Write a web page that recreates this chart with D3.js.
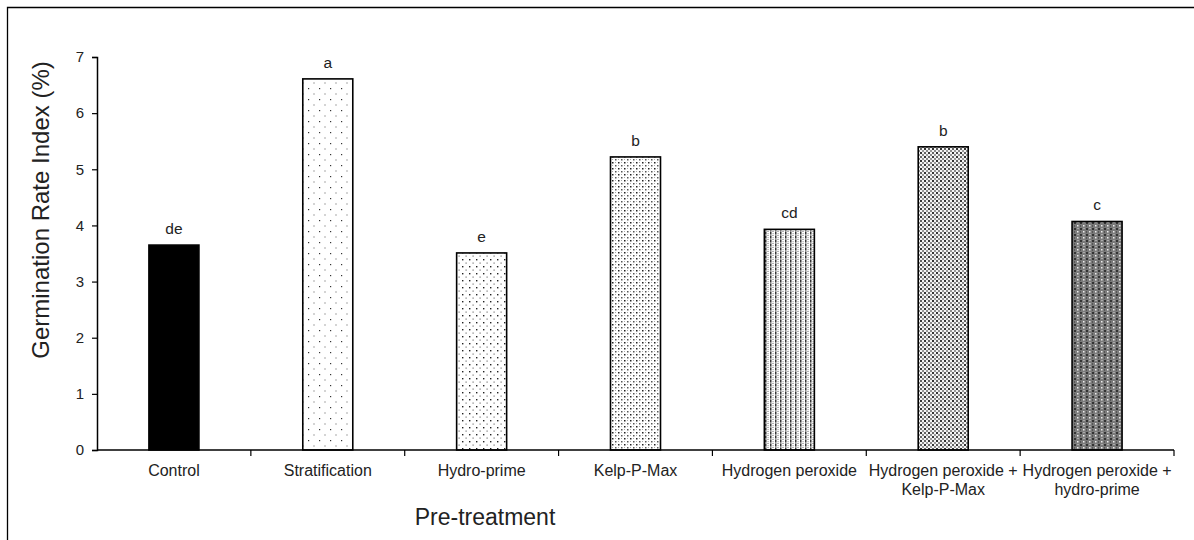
<!DOCTYPE html>
<html>
<head>
<meta charset="utf-8">
<script src="https://cdn.jsdelivr.net/npm/d3@7/dist/d3.min.js"></script>
<style>
  html, body { margin: 0; padding: 0; background: #fff; }
  svg { display: block; font-family: "Liberation Sans", Arial, sans-serif; }
</style>
</head>
<body>
<svg id="chart" width="1194" height="540"></svg>
<script>
// Pre-treatments and their germination rate index values
const categories = [
  ["Control"],
  ["Stratification"],
  ["Hydro-prime"],
  ["Kelp-P-Max"],
  ["Hydrogen peroxide"],
  ["Hydrogen peroxide +", "Kelp-P-Max"],
  ["Hydrogen peroxide +", "hydro-prime"]
];
const values = [3.65, 6.61, 3.51, 5.22, 3.93, 5.40, 4.07];
const letters = ["de", "a", "e", "b", "cd", "b", "c"];
const yTicks = [0, 1, 2, 3, 4, 5, 6, 7];
const fills = ["solid", "sparse", "dots", "fine", "stripes", "check", "dark"];

const svg = d3.select("#chart");
const defs = svg.append("defs");

// Fill patterns for the bars
function pattern(id, w, h, bg, dots) {
  const p = defs.append("pattern").attr("id", id)
    .attr("patternUnits", "userSpaceOnUse").attr("width", w).attr("height", h);
  p.append("rect").attr("width", w).attr("height", h).attr("fill", bg);
  dots.forEach(([x, y, dw, dh, c]) => p.append("rect")
    .attr("x", x).attr("y", y).attr("width", dw).attr("height", dh).attr("fill", c));
}
pattern("sparse", 11, 11, "#fff", [[0, 0, 1.2, 1.2, "#333"], [5.5, 5.5, 1, 1, "#555"]]);
pattern("dots", 7, 7, "#fff", [[0, 0, 1.4, 1.4, "#222"], [3.5, 3.5, 1.2, 1.2, "#777"]]);
pattern("fine", 6, 6, "#fff", [[0, 0, 1.5, 1.5, "#222"], [3, 3, 1.5, 1.5, "#555"], [3, 0, 1, 1, "#aaa"], [0, 3, 1, 1, "#aaa"]]);
pattern("stripes", 5, 4, "#fff", [[0, 0, 1.5, 2, "#333"], [0, 2, 1.5, 2, "#888"], [2.5, 1, 1.2, 1.2, "#aaa"], [2.5, 3, 1, 1, "#666"]]);
pattern("check", 8, 8, "#f4f4f4", [[0, 0, 2, 2, "#333"], [4, 4, 2, 2, "#333"], [2, 2, 2, 2, "#888"], [6, 6, 2, 2, "#888"], [6, 2, 2, 2, "#999"], [2, 6, 2, 2, "#999"], [0, 4, 2, 2, "#666"], [4, 0, 2, 2, "#666"]]);
pattern("dark", 6, 6, "#7a7a7a", [[0, 0, 2, 2, "#333"], [3, 3, 1.5, 1.5, "#eee"], [3, 0, 2, 1, "#aaa"], [0, 3, 1, 2, "#555"]]);

// Outer frame
svg.append("path").attr("d", "M7.5,540 V7.5 H1194")
  .attr("fill", "none").attr("stroke", "#000").attr("stroke-width", 1.3);

const margin = { left: 97, right: 1174, top: 57, bottom: 450 };
const x = d3.scaleBand().domain(d3.range(categories.length))
  .range([margin.left, margin.right]).paddingInner(0).paddingOuter(0);
const y = d3.scaleLinear().domain([0, 7]).range([margin.bottom, margin.top]);
const barW = 50;

// Bars
svg.append("g").selectAll("rect").data(values).join("rect")
  .attr("x", (d, i) => x(i) + x.bandwidth() / 2 - barW / 2)
  .attr("y", d => y(d))
  .attr("width", barW)
  .attr("height", d => y(0) - y(d))
  .attr("fill", (d, i) => fills[i] === "solid" ? "#000" : `url(#${fills[i]})`)
  .attr("stroke", "#000").attr("stroke-width", 1.6);

// Significance letters
svg.append("g").selectAll("text").data(values).join("text")
  .attr("x", (d, i) => x(i) + x.bandwidth() / 2)
  .attr("y", d => y(d) - 11)
  .attr("text-anchor", "middle")
  .attr("font-size", 15.5).attr("fill", "#222")
  .text((d, i) => letters[i]);

// Y axis
const yAxis = svg.append("g").attr("transform", `translate(${margin.left},0)`)
  .call(d3.axisLeft(y).tickValues(yTicks).tickFormat(d3.format("d")).tickSize(5).tickPadding(8));
yAxis.select(".domain").attr("stroke-width", 1.5);
yAxis.selectAll("line").attr("stroke-width", 1.2);
yAxis.selectAll("text").attr("font-size", 15).attr("fill", "#222")
  .style("font-family", "'Liberation Sans', Arial, sans-serif");

// X axis line with downward separators between categories
const xAxisG = svg.append("g");
xAxisG.append("line").attr("x1", margin.left).attr("x2", margin.right)
  .attr("y1", y(0)).attr("y2", y(0)).attr("stroke", "#000").attr("stroke-width", 1.5);
xAxisG.selectAll(".sep").data(d3.range(1, categories.length + 1)).join("line")
  .attr("class", "sep")
  .attr("x1", i => i === categories.length ? margin.right : x(i))
  .attr("x2", i => i === categories.length ? margin.right : x(i))
  .attr("y1", y(0)).attr("y2", y(0) + 6)
  .attr("stroke", "#000").attr("stroke-width", 1.2);

// Category labels
const labels = svg.append("g").selectAll("text").data(categories).join("text")
  .attr("text-anchor", "middle").attr("font-size", 16).attr("fill", "#222");
labels.each(function(lines, i) {
  const t = d3.select(this);
  lines.forEach((line, k) => t.append("tspan")
    .attr("x", x(i) + x.bandwidth() / 2)
    .attr("y", 476 + k * 19)
    .text(line));
});

// Axis titles
svg.append("text").attr("x", 485).attr("y", 525)
  .attr("text-anchor", "middle").attr("font-size", 23).attr("fill", "#222")
  .text("Pre-treatment");
svg.append("text")
  .attr("transform", `translate(49,210) rotate(-90)`)
  .attr("text-anchor", "middle").attr("font-size", 24).attr("fill", "#222")
  .text("Germination Rate Index (%)");
</script>
</body>
</html>
